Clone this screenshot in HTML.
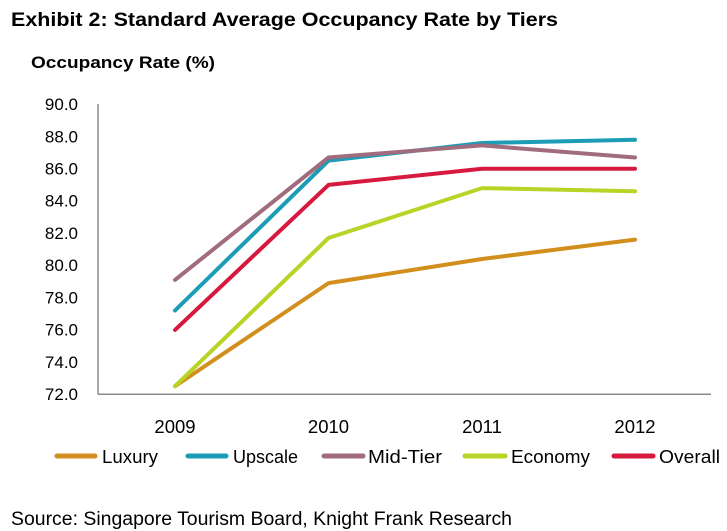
<!DOCTYPE html>
<html>
<head>
<meta charset="utf-8">
<style>
  html, body { margin:0; padding:0; background:#fff; }
  svg { display:block; }
  text { font-family: "Liberation Sans", Arial, sans-serif; fill:#000; }
</style>
</head>
<body>
<svg width="727" height="531" viewBox="0 0 727 531" xmlns="http://www.w3.org/2000/svg">
  <rect width="727" height="531" fill="#fff"/>
  <!-- Titles -->
  <text x="11" y="26" font-size="19" font-weight="bold" textLength="547" lengthAdjust="spacingAndGlyphs">Exhibit 2: Standard Average Occupancy Rate by Tiers</text>
  <text x="31" y="68" font-size="17" font-weight="bold" textLength="184" lengthAdjust="spacingAndGlyphs">Occupancy Rate (%)</text>

  <!-- Y tick labels -->
  <g font-size="17" text-anchor="end">
    <text x="78" y="110.1">90.0</text>
    <text x="78" y="142.3">88.0</text>
    <text x="78" y="174.5">86.0</text>
    <text x="78" y="206.7">84.0</text>
    <text x="78" y="239.0">82.0</text>
    <text x="78" y="271.2">80.0</text>
    <text x="78" y="303.4">78.0</text>
    <text x="78" y="335.7">76.0</text>
    <text x="78" y="367.9">74.0</text>
    <text x="78" y="400.1">72.0</text>
  </g>

  <!-- Axes -->
  <line x1="98" y1="104" x2="98" y2="394.3" stroke="#8a8a8a" stroke-width="1.5"/>
  <line x1="98" y1="394.3" x2="711" y2="394.3" stroke="#8a8a8a" stroke-width="1.5"/>

  <!-- X labels -->
  <g font-size="18.5" text-anchor="middle">
    <text x="175" y="433">2009</text>
    <text x="328.5" y="433">2010</text>
    <text x="482" y="433">2011</text>
    <text x="635" y="433">2012</text>
  </g>

  <!-- Series -->
  <g fill="none" stroke-width="4" stroke-linejoin="round" stroke-linecap="round">
    <polyline stroke="#D38F1D" points="175,386.2 328.5,283.1 482,259.0 635,239.6"/>
    <polyline stroke="#1C9CB5" points="175,310.5 328.5,160.7 482,143.0 635,139.7"/>
    <polyline stroke="#A06C7E" points="175,279.9 328.5,157.5 482,145.4 635,157.5"/>
    <polyline stroke="#B8D426" points="175,386.2 328.5,238.0 482,188.1 635,191.3"/>
    <polyline stroke="#D8193F" points="175,329.9 328.5,184.9 482,168.7 635,168.7"/>
  </g>

  <!-- Legend -->
  <g stroke-width="5" stroke-linecap="round">
    <line x1="57" y1="456" x2="95" y2="456" stroke="#D38F1D"/>
    <line x1="188" y1="456" x2="226" y2="456" stroke="#1C9CB5"/>
    <line x1="324" y1="456" x2="363" y2="456" stroke="#A06C7E"/>
    <line x1="465" y1="456" x2="505" y2="456" stroke="#B8D426"/>
    <line x1="614" y1="456" x2="653" y2="456" stroke="#D8193F"/>
  </g>
  <g font-size="18">
    <text x="102" y="463" textLength="56" lengthAdjust="spacingAndGlyphs">Luxury</text>
    <text x="233" y="463" textLength="65" lengthAdjust="spacingAndGlyphs">Upscale</text>
    <text x="368" y="463" textLength="74" lengthAdjust="spacingAndGlyphs">Mid-Tier</text>
    <text x="511" y="463" textLength="79" lengthAdjust="spacingAndGlyphs">Economy</text>
    <text x="659" y="463" textLength="61" lengthAdjust="spacingAndGlyphs">Overall</text>
  </g>

  <!-- Source -->
  <text x="11" y="525" font-size="19" textLength="501" lengthAdjust="spacingAndGlyphs">Source: Singapore Tourism Board, Knight Frank Research</text>
</svg>
</body>
</html>
